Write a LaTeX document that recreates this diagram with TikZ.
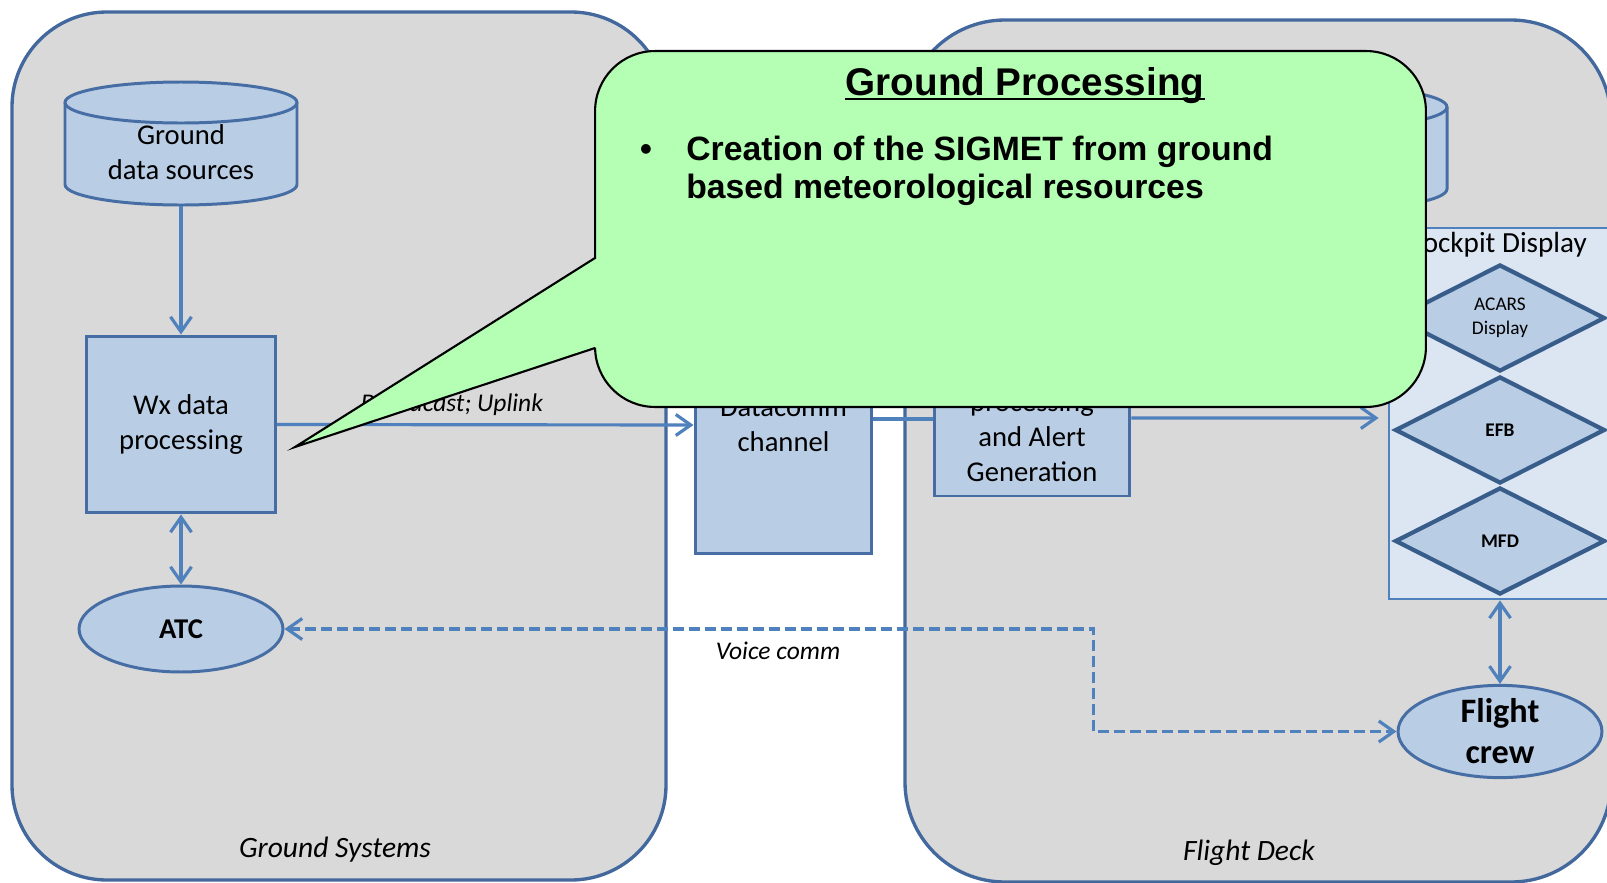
\documentclass[tikz,border=0pt]{standalone}
\usepackage{fontspec}
\setmainfont{Carlito}
\newfontfamily\arialfont{Liberation Sans}
\usetikzlibrary{arrows.meta, calc, positioning, shapes.geometric}

\definecolor{panelgray}{RGB}{217,217,217}
\definecolor{panelblue}{RGB}{66,104,158}
\definecolor{boxfill}{RGB}{185,205,229}
\definecolor{boxline}{RGB}{70,110,165}
\definecolor{arrowblue}{RGB}{79,129,189}
\definecolor{cockpitfill}{RGB}{220,230,242}
\definecolor{diamondline}{RGB}{56,93,138}
\definecolor{calloutgreen}{RGB}{180,255,180}

\tikzset{
  panel/.style={draw=panelblue, fill=panelgray, line width=1.9pt, rounded corners=1.9cm},
  wxbox/.style={draw=boxline, fill=boxfill, line width=1.7pt, align=center, inner sep=0pt, font=\fontsize{16.3}{20}\selectfont},
  wxoval/.style={wxbox, ellipse},
  display/.style={diamond, draw=diamondline, fill=boxfill, line width=2.4pt, inner sep=0pt, minimum width=4.2cm, minimum height=2.14cm, align=center, font=\fontsize{11}{13.4}\selectfont},
  flow/.style={draw=arrowblue, line width=1.8pt, -{Straight Barb[length=0.3cm, width=0.42cm]}},
  twoway/.style={flow, {Straight Barb[length=0.3cm, width=0.42cm]}-{Straight Barb[length=0.3cm, width=0.42cm]}},
  voice/.style={twoway, dash pattern=on 0.22cm off 0.1cm},
  lbl/.style={font=\fontsize{14.5}{17}\selectfont\itshape, inner sep=0pt},
  callout/.style={draw=black, fill=calloutgreen, line width=1.2pt},
  calloutfont/.style={font=\arialfont\bfseries\fontsize{19.2}{21.6}\selectfont, inner sep=0pt},
}

\begin{document}
\begin{tikzpicture}[x=0.02cm, y=-0.02cm]

        \useasboundingbox (0,0) rectangle (1607,883);
        \fill[white] (0,0) rectangle (1607,883);

        % Panels
        \draw[panel] (12,12) rectangle (666,880); % Ground Systems
        \draw[panel, rounded corners=2cm] (905,20) rectangle (1611,882); % Flight Deck
        \node[lbl, font=\fontsize{16.8}{20}\selectfont\itshape] (gsyslbl) at (335,850) {Ground Systems};
        \node[lbl, font=\fontsize{16.8}{20}\selectfont\itshape] (fdecklbl) at (1249,853) {Flight Deck};

        % Ground data sources (cylinder)
        \node[minimum width=4.64cm, minimum height=2.46cm, inner sep=0pt] (gds) at (181,143.75) {};
        \fill[boxfill] (65,102.5) -- (65,184.5) arc (180:0:116 and 20.5) -- (297,102.5) arc (0:-180:116 and 20.5) -- cycle;
        \draw[boxline, line width=1.7pt] (65,102.5) -- (65,184.5) arc (180:0:116 and 20.5) -- (297,102.5);
        \draw[boxline, line width=1.7pt] (181,102.5) ellipse (116 and 20.5);
        \node[align=center, inner sep=0pt, font=\fontsize{16.3}{20}\selectfont] (gdstext) at (181,152.5) {Ground\\data sources};

        % Cylinder on the flight deck side (behind the callout)
        \fill[boxfill] (1215,107) -- (1215,189) arc (180:0:116 and 20.5) -- (1447,107) arc (0:-180:116 and 20.5) -- cycle;
        \draw[boxline, line width=1.7pt] (1215,107) -- (1215,189) arc (180:0:116 and 20.5) -- (1447,107);
        \draw[boxline, line width=1.7pt] (1331,107) ellipse (116 and 20.5);

        % Ground side boxes
        \node[wxbox, minimum width=3.78cm, minimum height=3.54cm] (wx) at (181,424.5) {Wx data\\processing};
        \node[wxoval, minimum width=4.08cm, minimum height=1.72cm, font=\fontsize{16.3}{20}\selectfont\bfseries] (atc) at (181,629) {ATC};
        \draw[flow] (gds.south) -- (wx.north);
        \draw[twoway] (wx.south) -- (atc.north);

        % Datacomm channel
        \node[wxbox, minimum width=3.54cm, minimum height=5.16cm] (dc) at (783.5,425) {Datacomm\\channel};
        \draw[flow] (wx.east) -- node[lbl, pos=0.42, above=0.16cm] (bcast) {Broadcast; Uplink} (dc.west);

        % Flight deck side
        \node[wxbox, minimum width=3.92cm, minimum height=2.36cm] (alert) at (1032,437) {processing\\and Alert\\Generation};
        \draw[draw=arrowblue, line width=1.8pt] ($(dc.east)+(0,-6)$) -- ($(alert.west)+(0,-18)$);

        \node[draw=arrowblue, fill=cockpitfill, line width=1.6pt, minimum width=4.6cm, minimum height=7.42cm, inner sep=0pt] (cockpit) at (1504,413.5) {};
        \node[font=\fontsize{16.6}{20}\selectfont, anchor=base, inner sep=0pt] (cockpitlbl) at (1497,252) {Cockpit Display};
        \node[display] (acars) at (1500,318) {ACARS\\Display};
        \node[display] (efb) at (1500,430) {\textbf{EFB}};
        \node[display] (mfd) at (1500,541) {\textbf{MFD}};
        \draw[flow, shorten >=0.18cm] ($(alert.east)+(0,-19)$) -- ($(cockpit.west)+(0,4.5)$);

        \node[wxoval, minimum width=4.08cm, minimum height=1.7cm, font=\fontsize{19.5}{23.3}\selectfont\bfseries] (crew) at (1500,731.5) {Flight\\crew};
        \draw[twoway] (crew.north |- cockpit.south) -- (crew.north);

        % Voice link
        \draw[voice] (atc.east) -- node[lbl, pos=0.61, below=0.22cm] (vcomm) {Voice comm} ++(809,0) |- (crew.west);

        % Callout
        \node[callout, rounded corners=1.2cm, minimum width=16.62cm, minimum height=7.12cm, inner sep=0pt] (gp) at (1010.5,229) {};
        \fill[calloutgreen] (593.5,259) -- (295,447) -- (593.5,347.5) -- (602,347.5) -- (602,259) -- cycle;
        \draw[line width=1.2pt, line join=miter] (595,258) -- (295,447) -- (595,348);
        \node[font=\arialfont\bfseries\fontsize{22}{26}\selectfont, anchor=base, inner sep=0pt] (gptitle) at (1025,95) {Ground Processing};
        \draw[line width=1.1pt] ($(gptitle.base west)+(0,4)$) -- ($(gptitle.base east)+(0,4)$);
        \node[calloutfont, anchor=base] (dot) at (646,160) {\textbullet};
        \node[calloutfont, anchor=north west, align=left] (sigmet) at (686,136) {Creation of the SIGMET from ground\\based meteorological resources};

\end{tikzpicture}
\end{document}
